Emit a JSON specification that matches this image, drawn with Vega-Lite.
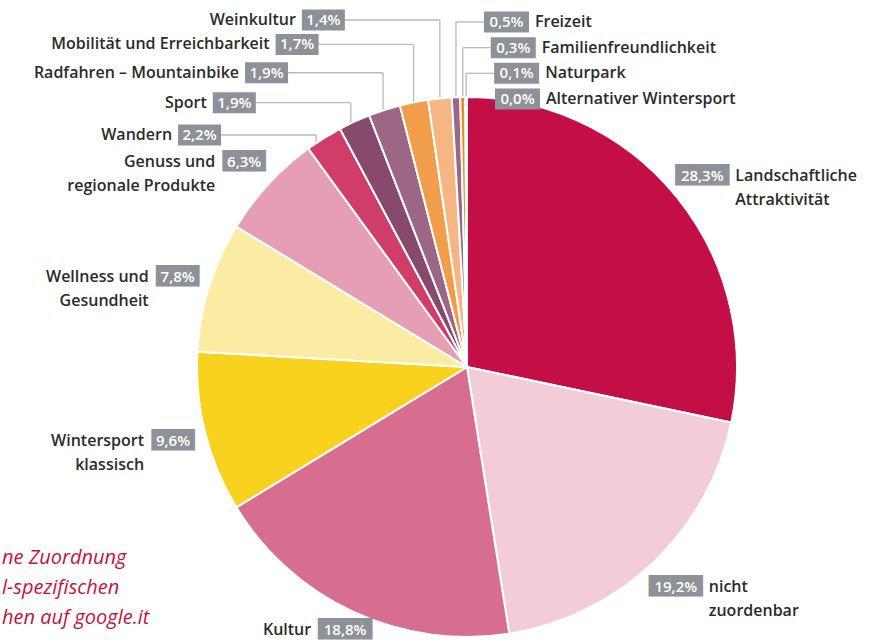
{
  "$schema": "https://vega.github.io/schema/vega-lite/v6.json",
  "width": 816,
  "height": 540,
  "autosize": {"type": "none"},
  "padding": {"left": 59, "top": 97, "right": 0, "bottom": 5},
  "background": "white",
  "config": {
    "view": {"stroke": null},
    "locale": {"number": {"decimal": ",", "thousands": ".", "grouping": [3], "currency": ["", " €"]}},
    "text": {"font": "Open Sans"}
  },
  "title": {
    "text": ["ne Zuordnung", "l-spezifischen", "hen auf google.it"],
    "orient": "bottom",
    "anchor": "start",
    "frame": "group",
    "align": "left",
    "baseline": "top",
    "dx": -57,
    "dy": -97,
    "font": "Open Sans",
    "fontSize": 20,
    "fontStyle": "italic",
    "fontWeight": "normal",
    "color": "#C8103F",
    "lineHeight": 30
  },
  "data": {
    "values": [
      {"order": 1, "cat": "Landschaftliche\nAttraktivität", "share": 0.283, "grp": "bigR"},
      {"order": 2, "cat": "nicht\nzuordenbar", "share": 0.192, "grp": "bigR"},
      {"order": 3, "cat": "Kultur", "share": 0.188, "grp": "bigL"},
      {"order": 4, "cat": "Wintersport\nklassisch", "share": 0.096, "grp": "bigL"},
      {"order": 5, "cat": "Wellness und\nGesundheit", "share": 0.078, "grp": "bigL"},
      {"order": 6, "cat": "Genuss und\nregionale Produkte", "share": 0.063, "grp": "bigL"},
      {"order": 7, "cat": "Wandern", "share": 0.022, "grp": "L"},
      {"order": 8, "cat": "Sport", "share": 0.019, "grp": "L"},
      {"order": 9, "cat": "Radfahren – Mountainbike", "share": 0.019, "grp": "L"},
      {"order": 10, "cat": "Mobilität und Erreichbarkeit", "share": 0.017, "grp": "L"},
      {"order": 11, "cat": "Weinkultur", "share": 0.014, "grp": "L"},
      {"order": 12, "cat": "Freizeit", "share": 0.005, "grp": "R"},
      {"order": 13, "cat": "Familienfreundlichkeit", "share": 0.003, "grp": "R"},
      {"order": 14, "cat": "Naturpark", "share": 0.001, "grp": "R"},
      {"order": 15, "cat": "Alternativer Wintersport", "share": 0.0, "grp": "R"}
    ]
  },
  "transform": [
    {"stack": "share", "groupby": [], "sort": [{"field": "order", "order": "ascending"}], "as": ["s0", "s1"]},
    {"fold": ["s0", "s1"], "as": ["edge", "pos"]},
    {"aggregate": [{"op": "mean", "field": "pos", "as": "mid"}], "groupby": ["order", "cat", "share", "grp"]}
  ],
  "resolve": {"scale": {"y": "independent"}},
  "layer": [
    {
      "transform": [{"filter": "datum.grp == 'L'"}],
      "mark": {"type": "rule", "color": "#B8BABF", "strokeWidth": 1.3, "y2Offset": 20},
      "encoding": {
        "x": {"field": "mid", "type": "quantitative", "scale": {"domain": [0.9, 1], "range": [238.4, 408]}, "axis": null},
        "y": {"field": "mid", "type": "quantitative", "scale": {"domain": [0.9, 1], "range": [55.3, -102.2]}, "axis": null},
        "y2": {"datum": 0.9}
      }
    },
    {
      "transform": [{"filter": "datum.grp == 'L'"}],
      "mark": {"type": "rule", "color": "#B8BABF", "strokeWidth": 1.3, "x2Offset": -95},
      "encoding": {
        "x": {"field": "mid", "type": "quantitative", "scale": {"domain": [0.9, 1], "range": [238.4, 408]}, "axis": null},
        "x2": {"field": "mid"},
        "y": {"field": "mid", "type": "quantitative", "scale": {"domain": [0.9, 1], "range": [55.3, -102.2]}, "axis": null}
      }
    },
    {
      "transform": [{"filter": "datum.grp == 'R'"}],
      "mark": {"type": "rule", "color": "#B8BABF", "strokeWidth": 1.3, "y2Offset": 90},
      "encoding": {
        "x": {"field": "mid", "type": "quantitative", "scale": {"domain": [0.9, 1], "range": [238.4, 408]}, "axis": null},
        "y": {"field": "cat", "type": "nominal", "scale": {"type": "point", "domain": ["Freizeit", "Familienfreundlichkeit", "Naturpark", "Alternativer Wintersport"], "range": [-75, 2], "padding": 0}, "axis": null},
        "y2": {"datum": "Alternativer Wintersport"}
      }
    },
    {
      "transform": [{"filter": "datum.grp == 'R'"}],
      "mark": {"type": "rule", "color": "#B8BABF", "strokeWidth": 1.3, "x2Offset": 28},
      "encoding": {
        "x": {"field": "mid", "type": "quantitative", "scale": {"domain": [0.9, 1], "range": [238.4, 408]}, "axis": null},
        "x2": {"field": "mid"},
        "y": {"field": "cat", "type": "nominal", "scale": {"type": "point", "domain": ["Freizeit", "Familienfreundlichkeit", "Naturpark", "Alternativer Wintersport"], "range": [-75, 2], "padding": 0}, "axis": null}
      }
    },
    {
      "mark": {"type": "arc", "outerRadius": 270, "stroke": "white", "strokeWidth": 2},
      "encoding": {
        "theta": {"field": "share", "type": "quantitative", "stack": true, "scale": {"domain": [0, 1]}},
        "order": {"field": "order", "type": "quantitative"},
        "color": {
          "field": "cat",
          "type": "nominal",
          "legend": null,
          "scale": {
            "domain": ["Landschaftliche\nAttraktivität", "nicht\nzuordenbar", "Kultur", "Wintersport\nklassisch", "Wellness und\nGesundheit", "Genuss und\nregionale Produkte", "Wandern", "Sport", "Radfahren – Mountainbike", "Mobilität und Erreichbarkeit", "Weinkultur", "Freizeit", "Familienfreundlichkeit", "Naturpark", "Alternativer Wintersport"],
            "range": ["#C30F45", "#F2CDD8", "#D86E8F", "#F8D21D", "#FCEBA2", "#E69EB4", "#D03D69", "#874A6C", "#9B6784", "#F29D4B", "#F5B684", "#9B6784", "#F08A24", "#E8B4C4", "#C30F45"]
          }
        }
      }
    },
    {
      "transform": [{"filter": "datum.grp == 'L'"}],
      "mark": {"type": "rect", "color": "#8E9197", "xOffset": -138, "x2Offset": -95, "height": 21},
      "encoding": {
        "x": {"field": "mid", "type": "quantitative", "scale": {"domain": [0.9, 1], "range": [238.4, 408]}, "axis": null},
        "x2": {"field": "mid"},
        "y": {"field": "mid", "type": "quantitative", "scale": {"domain": [0.9, 1], "range": [55.3, -102.2]}, "axis": null}
      }
    },
    {
      "transform": [{"filter": "datum.grp == 'L'"}],
      "mark": {"type": "text", "color": "white", "fontSize": 15, "fontWeight": 600, "align": "center", "baseline": "middle", "xOffset": -116.5},
      "encoding": {
        "x": {"field": "mid", "type": "quantitative", "scale": {"domain": [0.9, 1], "range": [238.4, 408]}, "axis": null},
        "y": {"field": "mid", "type": "quantitative", "scale": {"domain": [0.9, 1], "range": [55.3, -102.2]}, "axis": null},
        "text": {"field": "share", "type": "quantitative", "format": ".1%"}
      }
    },
    {
      "transform": [{"filter": "datum.grp == 'L'"}],
      "mark": {"type": "text", "color": "#2B2B2B", "fontSize": 16, "fontWeight": 600, "align": "right", "baseline": "middle", "xOffset": -144},
      "encoding": {
        "x": {"field": "mid", "type": "quantitative", "scale": {"domain": [0.9, 1], "range": [238.4, 408]}, "axis": null},
        "y": {"field": "mid", "type": "quantitative", "scale": {"domain": [0.9, 1], "range": [55.3, -102.2]}, "axis": null},
        "text": {"field": "cat", "type": "nominal"}
      }
    },
    {
      "transform": [{"filter": "datum.grp == 'R'"}],
      "mark": {"type": "rect", "color": "#8E9197", "xOffset": 28, "x2Offset": 73, "height": 21},
      "encoding": {
        "x": {"field": "mid", "type": "quantitative", "scale": {"domain": [0.9, 1], "range": [238.4, 408]}, "axis": null},
        "x2": {"field": "mid"},
        "y": {"field": "cat", "type": "nominal", "scale": {"type": "point", "domain": ["Freizeit", "Familienfreundlichkeit", "Naturpark", "Alternativer Wintersport"], "range": [-75, 2], "padding": 0}, "axis": null}
      }
    },
    {
      "transform": [{"filter": "datum.grp == 'R'"}],
      "mark": {"type": "text", "color": "white", "fontSize": 15, "fontWeight": 600, "align": "center", "baseline": "middle", "xOffset": 50.5},
      "encoding": {
        "x": {"field": "mid", "type": "quantitative", "scale": {"domain": [0.9, 1], "range": [238.4, 408]}, "axis": null},
        "y": {"field": "cat", "type": "nominal", "scale": {"type": "point", "domain": ["Freizeit", "Familienfreundlichkeit", "Naturpark", "Alternativer Wintersport"], "range": [-75, 2], "padding": 0}, "axis": null},
        "text": {"field": "share", "type": "quantitative", "format": ".1%"}
      }
    },
    {
      "transform": [{"filter": "datum.grp == 'R'"}],
      "mark": {"type": "text", "color": "#2B2B2B", "fontSize": 16, "fontWeight": 600, "align": "left", "baseline": "middle", "xOffset": 79},
      "encoding": {
        "x": {"field": "mid", "type": "quantitative", "scale": {"domain": [0.9, 1], "range": [238.4, 408]}, "axis": null},
        "y": {"field": "cat", "type": "nominal", "scale": {"type": "point", "domain": ["Freizeit", "Familienfreundlichkeit", "Naturpark", "Alternativer Wintersport"], "range": [-75, 2], "padding": 0}, "axis": null},
        "text": {"field": "cat", "type": "nominal"}
      }
    },
    {
      "transform": [{"filter": "datum.grp == 'bigR' || datum.grp == 'bigL'"}],
      "mark": {"type": "text", "font": "DejaVu Sans Mono", "fontSize": 18, "color": "#8E9197", "align": "center", "baseline": "middle", "radius": {"expr": "datum.cat == 'Kultur' ? 290 : 303"}},
      "encoding": {
        "theta": {"field": "mid", "type": "quantitative", "scale": {"domain": [0, 1]}},
        "text": {"condition": {"test": "datum.share >= 0.1", "value": "█████"}, "value": "████"}
      }
    },
    {
      "transform": [{"filter": "datum.grp == 'bigR' || datum.grp == 'bigL'"}],
      "mark": {"type": "text", "fontSize": 15, "fontWeight": 600, "color": "white", "align": "center", "baseline": "middle", "radius": {"expr": "datum.cat == 'Kultur' ? 290 : 303"}},
      "encoding": {
        "theta": {"field": "mid", "type": "quantitative", "scale": {"domain": [0, 1]}},
        "text": {"field": "share", "type": "quantitative", "format": ".1%"}
      }
    },
    {
      "transform": [{"filter": "datum.grp == 'bigR'"}],
      "mark": {"type": "text", "fontSize": 16, "fontWeight": 600, "color": "#2B2B2B", "align": "left", "baseline": "alphabetic", "dx": 33, "dy": 5, "lineBreak": "\n", "lineHeight": 24, "radius": 303},
      "encoding": {
        "theta": {"field": "mid", "type": "quantitative", "scale": {"domain": [0, 1]}},
        "text": {"field": "cat", "type": "nominal"}
      }
    },
    {
      "transform": [{"filter": "datum.grp == 'bigL'"}],
      "mark": {"type": "text", "fontSize": 16, "fontWeight": 600, "color": "#2B2B2B", "align": "right", "baseline": "alphabetic", "dx": {"expr": "datum.share >= 0.1 ? -34 : -29"}, "dy": 5, "lineBreak": "\n", "lineHeight": 24, "radius": {"expr": "datum.cat == 'Kultur' ? 290 : 303"}},
      "encoding": {
        "theta": {"field": "mid", "type": "quantitative", "scale": {"domain": [0, 1]}},
        "text": {"field": "cat", "type": "nominal"}
      }
    }
  ]
}
